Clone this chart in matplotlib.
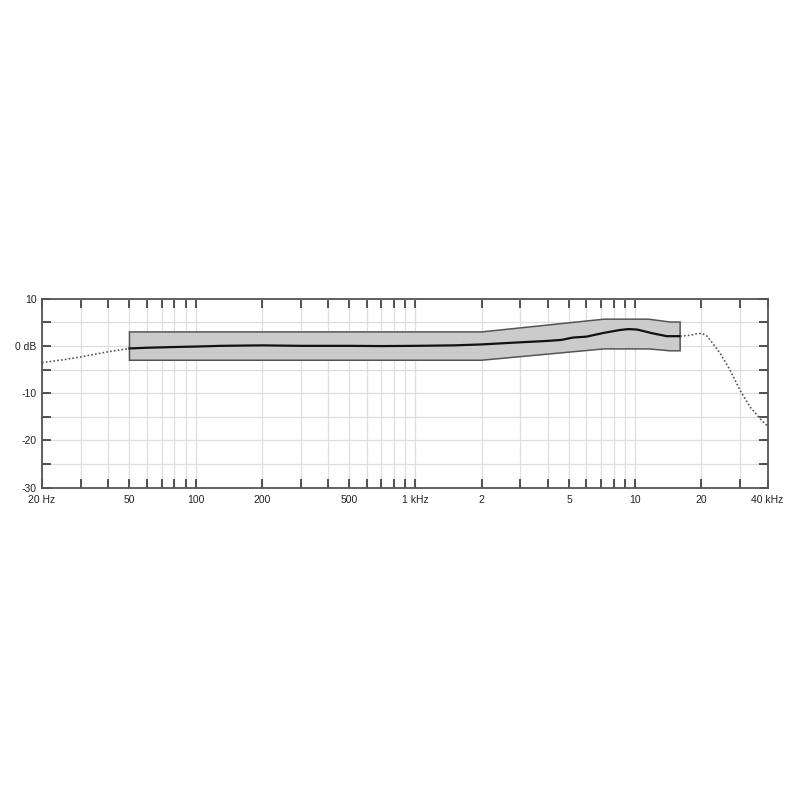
import matplotlib
matplotlib.use("Agg")
import matplotlib.pyplot as plt

plt.rcParams['font.family'] = ['Liberation Sans', 'DejaVu Sans']

# Tolerance band
band_f = [50, 2000, 7200, 11500, 14400, 16000]
band_hi = [3.0, 3.0, 5.7, 5.7, 5.1, 5.1]
band_lo = [-3.0, -3.0, -0.6, -0.6, -1.0, -1.0]

# Main response curve
main_f = [50, 60, 80, 100, 130, 200, 300, 500, 700, 1000, 1500, 2000, 3000,
          4000, 4600, 5200, 6000, 7200, 8500, 9300, 10200, 12000, 13900, 16000]
main_db = [-0.5, -0.35, -0.2, -0.1, 0.05, 0.15, 0.05, 0.05, 0.0, 0.05, 0.15,
           0.35, 0.8, 1.1, 1.3, 1.8, 2.0, 2.8, 3.4, 3.6, 3.5, 2.7, 2.1, 2.1]

# Dotted extrapolations
low_f = [20, 25, 30, 40, 50]
low_db = [-3.5, -2.9, -2.3, -1.2, -0.5]
high_f = [16000, 17800, 19000, 20000, 21000, 21900, 23000, 24300, 27000,
          30000, 33300, 37000, 40000]
high_db = [2.1, 2.3, 2.6, 2.7, 2.3, 1.3, 0.0, -1.5, -5.1, -9.4, -12.9,
           -15.4, -17.0]

x_ticks = [20, 30, 40, 50, 60, 70, 80, 90, 100, 200, 300, 400, 500, 600, 700,
           800, 900, 1000, 2000, 3000, 4000, 5000, 6000, 7000, 8000, 9000,
           10000, 20000, 30000, 40000]
x_labels = {20: '20 Hz', 50: '50', 100: '100', 200: '200', 500: '500',
            1000: '1 kHz', 2000: '2', 5000: '5', 10000: '10', 20000: '20',
            40000: '40 kHz'}
y_ticks = [-30, -25, -20, -15, -10, -5, 0, 5, 10]
y_labels = {10: '10', 0: '0 dB', -10: '-10', -20: '-20', -30: '-30'}

fig = plt.figure(figsize=(8, 8), dpi=100)
ax = fig.add_axes([0.0525, 0.3904, 0.907, 0.236])
ax.set_xscale('log')
ax.set_xlim(20, 40000)
ax.set_ylim(-30, 10)

# band polygon
poly_x = band_f + band_f[::-1]
poly_y = band_hi + band_lo[::-1]
ax.fill(poly_x, poly_y, facecolor='#cbcbcb', edgecolor='#555555', linewidth=1.1, zorder=2)

ax.plot(main_f, main_db, color='#111111', linewidth=1.6, zorder=3)
ax.plot(low_f, low_db, color='#555555', linewidth=1.2, linestyle=(0, (1, 1.3)), zorder=3)
ax.plot(high_f, high_db, color='#555555', linewidth=1.2, linestyle=(0, (1, 1.3)), zorder=3)

ax.xaxis.set_minor_locator(matplotlib.ticker.NullLocator())
ax.set_xticks(x_ticks)
ax.set_xticklabels([x_labels.get(t, '') for t in x_ticks])
ax.set_yticks(y_ticks)
ax.set_yticklabels([y_labels.get(t, '') for t in y_ticks])

ax.grid(True, color='#dedede', linewidth=0.9, zorder=0)
ax.set_axisbelow(True)

ax.tick_params(axis='both', direction='in', length=6.5, width=1.3, color='#444444',
               labelsize=7.5, labelcolor='#222222', top=True, right=True)
ax.tick_params(axis='x', pad=5.5)
ax.tick_params(axis='y', pad=4)
for s in ax.spines.values():
    s.set_color('#555555')
    s.set_linewidth(1.3)

fig.savefig('out.png', dpi=100, facecolor='white')
